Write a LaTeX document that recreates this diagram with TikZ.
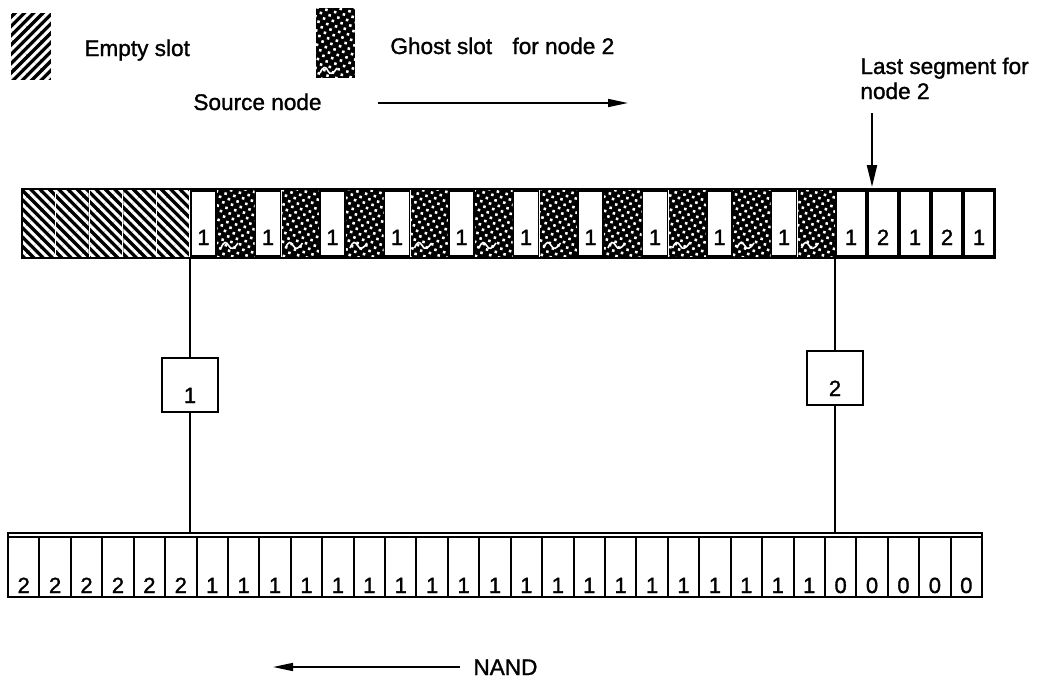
\documentclass[tikz,border=0pt]{standalone}
\usepackage{fontspec}
\setmainfont{Liberation Sans}[FakeBold=1.3]
\usetikzlibrary{patterns.meta,arrows.meta}
\begin{document}
\begin{tikzpicture}[x=0.5pt,y=-0.5pt,
  emptyfill/.style={preaction={fill=black}, pattern={Lines[angle=-45,distance=3.3pt,line width=1.5pt]}, pattern color=white},
  legendempty/.style={preaction={fill=black}, pattern={Lines[angle=45,distance=3.3pt,line width=1.5pt]}, pattern color=white},
  ghostfill/.style={preaction={fill=black}, pattern={Dots[distance=3.2pt,radius=0.9pt,angle=30]}, pattern color=white},
  whiteslot/.style={fill=white, draw=black, line width=0.9pt},
  botslot/.style={draw=black, line width=1pt},
  rowframe/.style={draw=black, line width=1.4pt},
  lbl/.style={font=\fontsize{11}{12}\selectfont, inner sep=0pt, anchor=base},
  txt/.style={font=\fontsize{11.3}{12}\selectfont, inner sep=0pt, anchor=base west},
  squiggle/.style={white, line width=0.8pt},
  conn/.style={line width=1.1pt},
  arr/.style={line width=0.8pt, -{Triangle[length=10pt,width=4pt]}},
  bigarr/.style={line width=1.1pt, -{Triangle[length=11pt,width=5pt]}},
  boxnode/.style={draw, line width=1.1pt, minimum width=28pt, minimum height=27pt, inner sep=0pt}
]
\useasboundingbox (0,0) rectangle (1053,686);

% ---------- legend ----------
\path[legendempty] (11,13) rectangle (51,80);
\node[txt] (empty) at (84,56) {Empty slot};
\path[ghostfill] (316,8) rectangle (355,78);
\draw[squiggle] (320,73) .. controls (323,66) and (326,66) .. (328,71) .. controls (330,75) and (333,74) .. (337,68);
\node[txt] (ghost) at (390,54) {Ghost slot\hspace{0.9em}for node 2};
\node[txt] (source) at (193,110) {Source node};
\coordinate (srcA) at (378,103);
\coordinate (srcB) at (628,103);
\draw[arr] (srcA) -- (srcB);
\node[txt] (lastsegA) at (860,74) {Last segment for};
\node[txt] (lastsegB) at (860,99) {node 2};
\coordinate (downA) at (872,113);
\coordinate (downB) at (872,187);
\draw[bigarr] (downA) -- (downB);

% ---------- top row ----------
\foreach \i in {0,...,4} {
  \pgfmathsetmacro\xa{22+\i*33.6+0.6}
  \pgfmathsetmacro\xb{22+(\i+1)*33.6-0.6}
  \path[emptyfill] (\xa,189) rectangle (\xb,258);
}
\foreach \k in {0,...,9} {
  \pgfmathsetmacro\wa{190+\k*64.5}
  \pgfmathsetmacro\wb{\wa+27}
  \pgfmathsetmacro\gb{\wa+64.5}
  \path[ghostfill] (\wb,189) rectangle (\gb,258);
  \draw[squiggle] (\wb+4,248) .. controls (\wb+7,241) and (\wb+9,241) .. (\wb+12,246) .. controls (\wb+14,250) and (\wb+17,249) .. (\wb+21,243);
  \draw[whiteslot] (\wa+1,191) rectangle (\wb-1,256);
  \node[lbl] (top\k) at ({(\wa+\wb)/2},245) {1};
}
\foreach \j/\v in {0/1,1/2,2/1,3/2,4/1} {
  \pgfmathsetmacro\xa{835+\j*32}
  \draw[whiteslot] (\xa+1,191) rectangle (\xa+31,256);
  \node[lbl] (tr\j) at (\xa+16,245) {\v};
}
\draw[rowframe] (22,189) rectangle (995,258);

% ---------- bottom row ----------
\draw[rowframe] (8,533) rectangle (982,597);
\foreach \i in {0,...,30} {
  \pgfmathsetmacro\xa{8+\i*31.42}
  \pgfmathtruncatemacro\v{\i<6 ? 2 : (\i<26 ? 1 : 0)}
  \draw[botslot] (\xa,537) rectangle (\xa+31.42,597);
  \node[lbl] (bot\i) at (\xa+15.7,593) {\v};
}

% ---------- processors and links ----------
\node[boxnode] (box1) at (190,385) {};
\node[lbl] (box1lbl) at (190,403) {1};
\node[boxnode] (box2) at (835,378) {};
\node[lbl] (box2lbl) at (835,396) {2};
\coordinate (tl) at (190,258);
\coordinate (bl) at (190,533);
\coordinate (tr) at (835,258);
\coordinate (br) at (835,533);
\draw[conn] (tl) -- (box1.north);
\draw[conn] (box1.south) -- (bl);
\draw[conn] (tr) -- (box2.north);
\draw[conn] (box2.south) -- (br);

% ---------- NAND arrow ----------
\coordinate (nandA) at (460,667);
\coordinate (nandB) at (273,667);
\draw[arr] (nandA) -- (nandB);
\node[txt] (nand) at (473,675) {NAND};
\end{tikzpicture}
\end{document}
